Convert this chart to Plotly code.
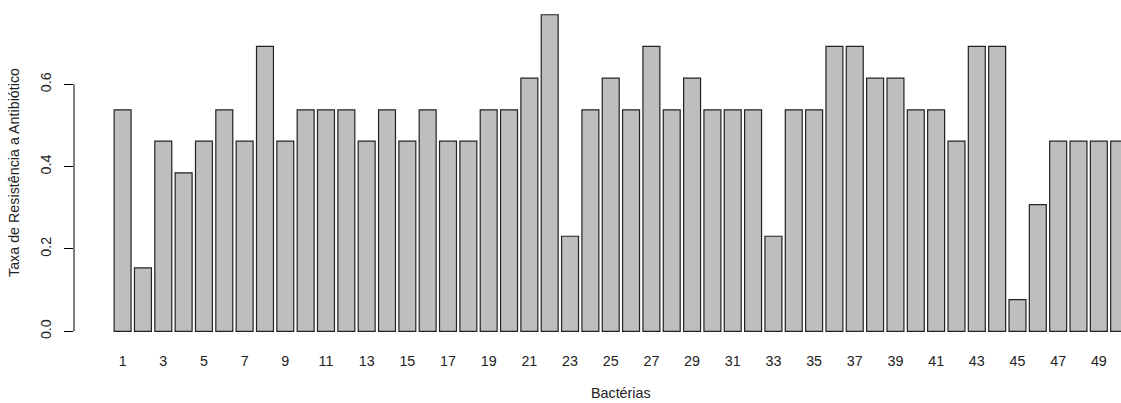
import plotly.graph_objects as go

# Data
bacteria = [str(i) for i in range(1, 51)]
resistance = [
    0.538, 0.154, 0.462, 0.385, 0.462, 0.538, 0.462, 0.692, 0.462, 0.538,
    0.538, 0.538, 0.462, 0.538, 0.462, 0.538, 0.462, 0.462, 0.538, 0.538,
    0.615, 0.769, 0.231, 0.538, 0.615, 0.538, 0.692, 0.538, 0.615, 0.538,
    0.538, 0.538, 0.231, 0.538, 0.538, 0.692, 0.692, 0.615, 0.615, 0.538,
    0.538, 0.462, 0.692, 0.692, 0.077, 0.308, 0.462, 0.462, 0.462, 0.462,
]
x_tick_labels = [str(i) for i in range(1, 51, 2)]
y_tick_vals = [0.0, 0.2, 0.4, 0.6]
y_tick_text = ["0.0", "0.2", "0.4", "0.6"]

FONT = "Liberation Sans, Arial, sans-serif"
FS = 14.3

fig = go.Figure(
    go.Bar(
        x=bacteria,
        y=resistance,
        marker=dict(color="#BEBEBE", line=dict(color="#222222", width=1.2)),
    )
)

fig.update_layout(
    width=1121,
    height=403,
    margin=dict(l=74, r=0, t=2, b=59),
    paper_bgcolor="white",
    plot_bgcolor="white",
    bargap=1 / 6,
    showlegend=False,
    font=dict(family=FONT, size=FS, color="#222222"),
    xaxis=dict(
        type="category",
        range=[-2.39, 49.09],
        tickvals=x_tick_labels,
        ticktext=x_tick_labels,
        ticks="",
        showline=False,
        showgrid=False,
        zeroline=False,
        ticklabelstandoff=7,
        tickfont=dict(size=FS),
    ),
    yaxis=dict(
        range=[-0.0308, 0.8],
        tickvals=y_tick_vals,
        ticktext=y_tick_text,
        tickangle=-90,
        ticks="outside",
        ticklen=9,
        tickwidth=1,
        tickcolor="#000000",
        showline=False,
        showgrid=False,
        zeroline=False,
        ticklabelstandoff=7,
        tickfont=dict(size=FS),
    ),
    shapes=[
        dict(type="line", xref="paper", yref="y", x0=0, x1=0, y0=0, y1=0.6,
             line=dict(color="#000000", width=1)),
    ],
    annotations=[
        dict(text="Bactérias", xref="paper", yref="paper", x=0.5225, y=0,
             xanchor="center", yanchor="middle", yshift=-49, showarrow=False,
             font=dict(size=FS)),
        dict(text="Taxa de Resistência a Antibiótico", xref="paper", yref="paper",
             x=0, y=0.5, xanchor="center", yanchor="middle", xshift=-60,
             textangle=-90, showarrow=False, font=dict(size=FS)),
    ],
)

fig.write_html("out.html")
